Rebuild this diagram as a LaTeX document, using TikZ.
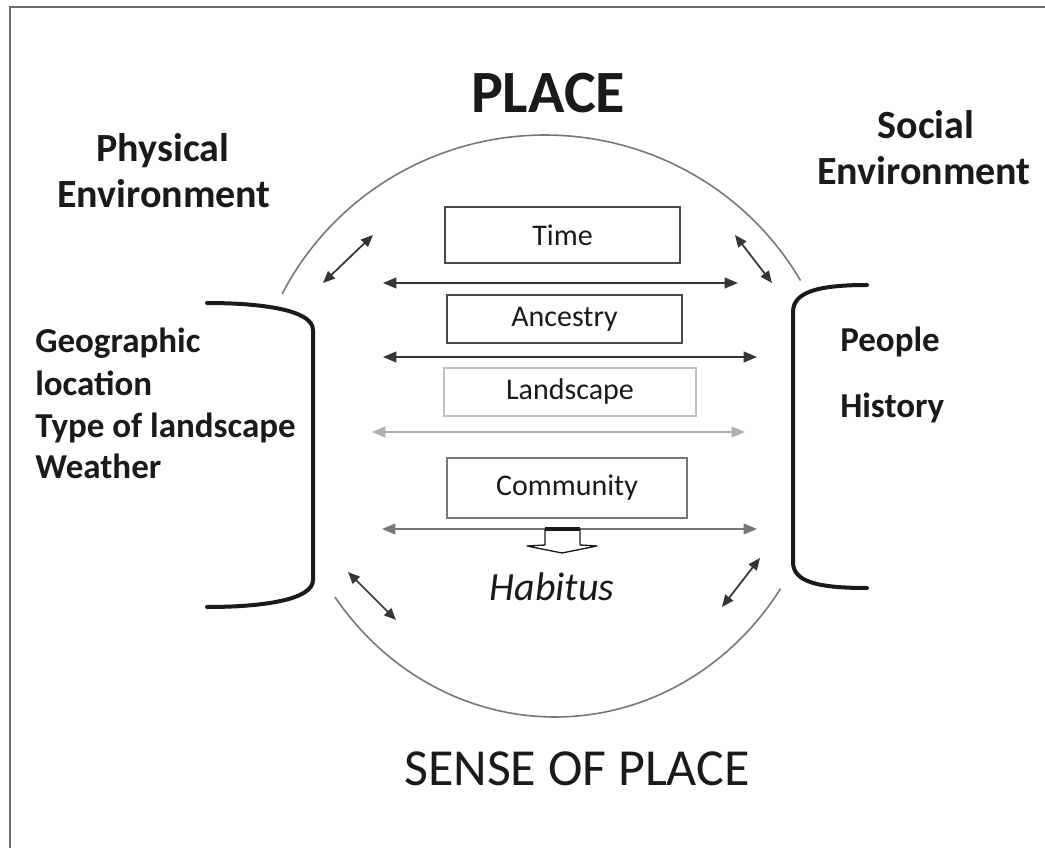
\documentclass[tikz,border=0pt]{standalone}
\usepackage{fontspec}
\setmainfont{Carlito}
\usetikzlibrary{arrows.meta}
\definecolor{ink}{HTML}{1A1A1A}
\definecolor{frame}{HTML}{6E6E6E}
\definecolor{dark}{HTML}{353535}
\definecolor{mid}{HTML}{777777}
\definecolor{light}{HTML}{B0B0B0}
\begin{document}
\begin{tikzpicture}[x=0.75pt,y=-0.75pt,
  hdr/.style={text=ink, font=\bfseries\fontsize{30}{34}\selectfont, inner sep=0pt, anchor=base},
  lst/.style={text=ink, font=\bfseries\fontsize{26.25}{30}\selectfont, inner sep=0pt, anchor=base west},
  boxlbl/.style={draw, line width=1.5pt, inner sep=0pt, text=ink, font=\fontsize{22.5}{25}\selectfont},
  dbl/.style={{Triangle[length=10pt,width=8pt]}-{Triangle[length=10pt,width=8pt]}, line width=1.5pt},
  diag/.style={{Triangle[length=9pt,width=7.5pt]}-{Triangle[length=9pt,width=7.5pt]}, line width=1.3pt, draw=dark},
  bracket/.style={line width=3pt, draw=ink, line cap=round},
  arcline/.style={line width=1.2pt, draw=mid}]
\useasboundingbox (0,0) rectangle (1045,848);
\fill[white] (0,0) rectangle (1045,848);
% frame
\coordinate (f1) at (10,848);
\coordinate (f2) at (10,7);
\coordinate (f3) at (1045,7);
\draw[frame, line width=1.6pt] (f1) -- (f2) -- (f3);

% titles
\node[text=ink, font=\bfseries\fontsize{45}{50}\selectfont, inner sep=0pt, anchor=base] (place) at (548,113) {PLACE};
\node[text=ink, font=\fontsize{39}{44}\selectfont, inner sep=0pt, anchor=base] (sense) at (577,785) {SENSE OF PLACE};

\node[hdr] (phys1) at (163,162) {Physical};
\node[hdr] (phys2) at (164,208) {Environment};
\node[hdr] (soc1) at (926,139) {Social};
\node[hdr] (soc2) at (924,185) {Environment};

\node[lst] (geo1) at (35,353) {Geographic};
\node[lst] (geo2) at (35,395) {location};
\node[lst] (geo3) at (35,437) {Type of landscape};
\node[lst] (geo4) at (35,478) {Weather};

\node[lst] (peo1) at (840,352) {People};
\node[lst] (peo2) at (840,417) {History};

% ellipse arcs
\draw[arcline] plot[domain=30:153, samples=80] ({545+295*cos(\x)},{426-291*sin(\x)});
\draw[arcline] plot[domain=216:326, samples=80] ({555+272*cos(\x)},{426-291*sin(\x)});

% brackets
\coordinate (lb1) at (207,303);
\coordinate (lb2) at (313,330);
\coordinate (lb3) at (313,580);
\coordinate (lb4) at (207,607);
\draw[bracket] (lb1) .. controls (262,303) and (313,310) .. (lb2) -- (lb3) .. controls (313,600) and (262,607) .. (lb4);
\coordinate (rb1) at (867,285);
\coordinate (rb2) at (793,312);
\coordinate (rb3) at (793,562);
\coordinate (rb4) at (867,588);
\draw[bracket] (rb1) .. controls (818,285) and (793,292) .. (rb2) -- (rb3) .. controls (793,582) and (818,588) .. (rb4);

% boxes
\node[boxlbl, draw=dark!90, minimum width=176.25pt, minimum height=42pt] (time) at (562.5,235) {Time};
\node[boxlbl, draw=dark!90, minimum width=176.25pt, minimum height=36pt] (anc) at (564.5,319) {Ancestry};
\node[boxlbl, draw=light!80, line width=1.1pt, minimum width=189pt, minimum height=36pt] (land) at (570,392) {Landscape};
\node[boxlbl, draw=mid, line width=1.3pt, minimum width=180pt, minimum height=45pt] (comm) at (567,488) {Community};

% horizontal double arrows
\coordinate (a1l) at (383,283); \coordinate (a1r) at (738,283);
\coordinate (a2l) at (383,357); \coordinate (a2r) at (757,357);
\coordinate (a3l) at (372,432); \coordinate (a3r) at (745,432);
\coordinate (a4l) at (382,529); \coordinate (a4r) at (757,529);
\draw[dbl, draw=dark, fill=dark] (a1l) -- (a1r);
\draw[dbl, draw=dark, fill=dark] (a2l) -- (a2r);
\draw[dbl, draw=light, fill=light, line width=1.2pt] (a3l) -- (a3r);
\draw[dbl, draw=mid, fill=mid, line width=1.3pt] (a4l) -- (a4r);

% hollow block arrow
\draw[fill=white, draw=ink, line width=1pt, line join=round]
  (545,529) -- (580,529) -- (580,545) -- (597,546) -- (562,553) -- (527,546) -- (545,545) -- cycle;
\draw[ink, line width=2.4pt] (545,529) -- (580,529);

\node[text=ink, font=\itshape\fontsize{30}{34}\selectfont, inner sep=0pt, anchor=base] (hab) at (552,600) {Habitus};

% diagonal double arrows
\coordinate (d1a) at (323,283); \coordinate (d1b) at (373,235);
\coordinate (d2a) at (735,235); \coordinate (d2b) at (772,283);
\coordinate (d3a) at (348,572); \coordinate (d3b) at (396,620);
\coordinate (d4a) at (760,558); \coordinate (d4b) at (722,607);
\draw[diag, fill=dark] (d1a) -- (d1b);
\draw[diag, fill=dark] (d2a) -- (d2b);
\draw[diag, fill=dark] (d3a) -- (d3b);
\draw[diag, fill=dark] (d4a) -- (d4b);
\end{tikzpicture}
\end{document}
